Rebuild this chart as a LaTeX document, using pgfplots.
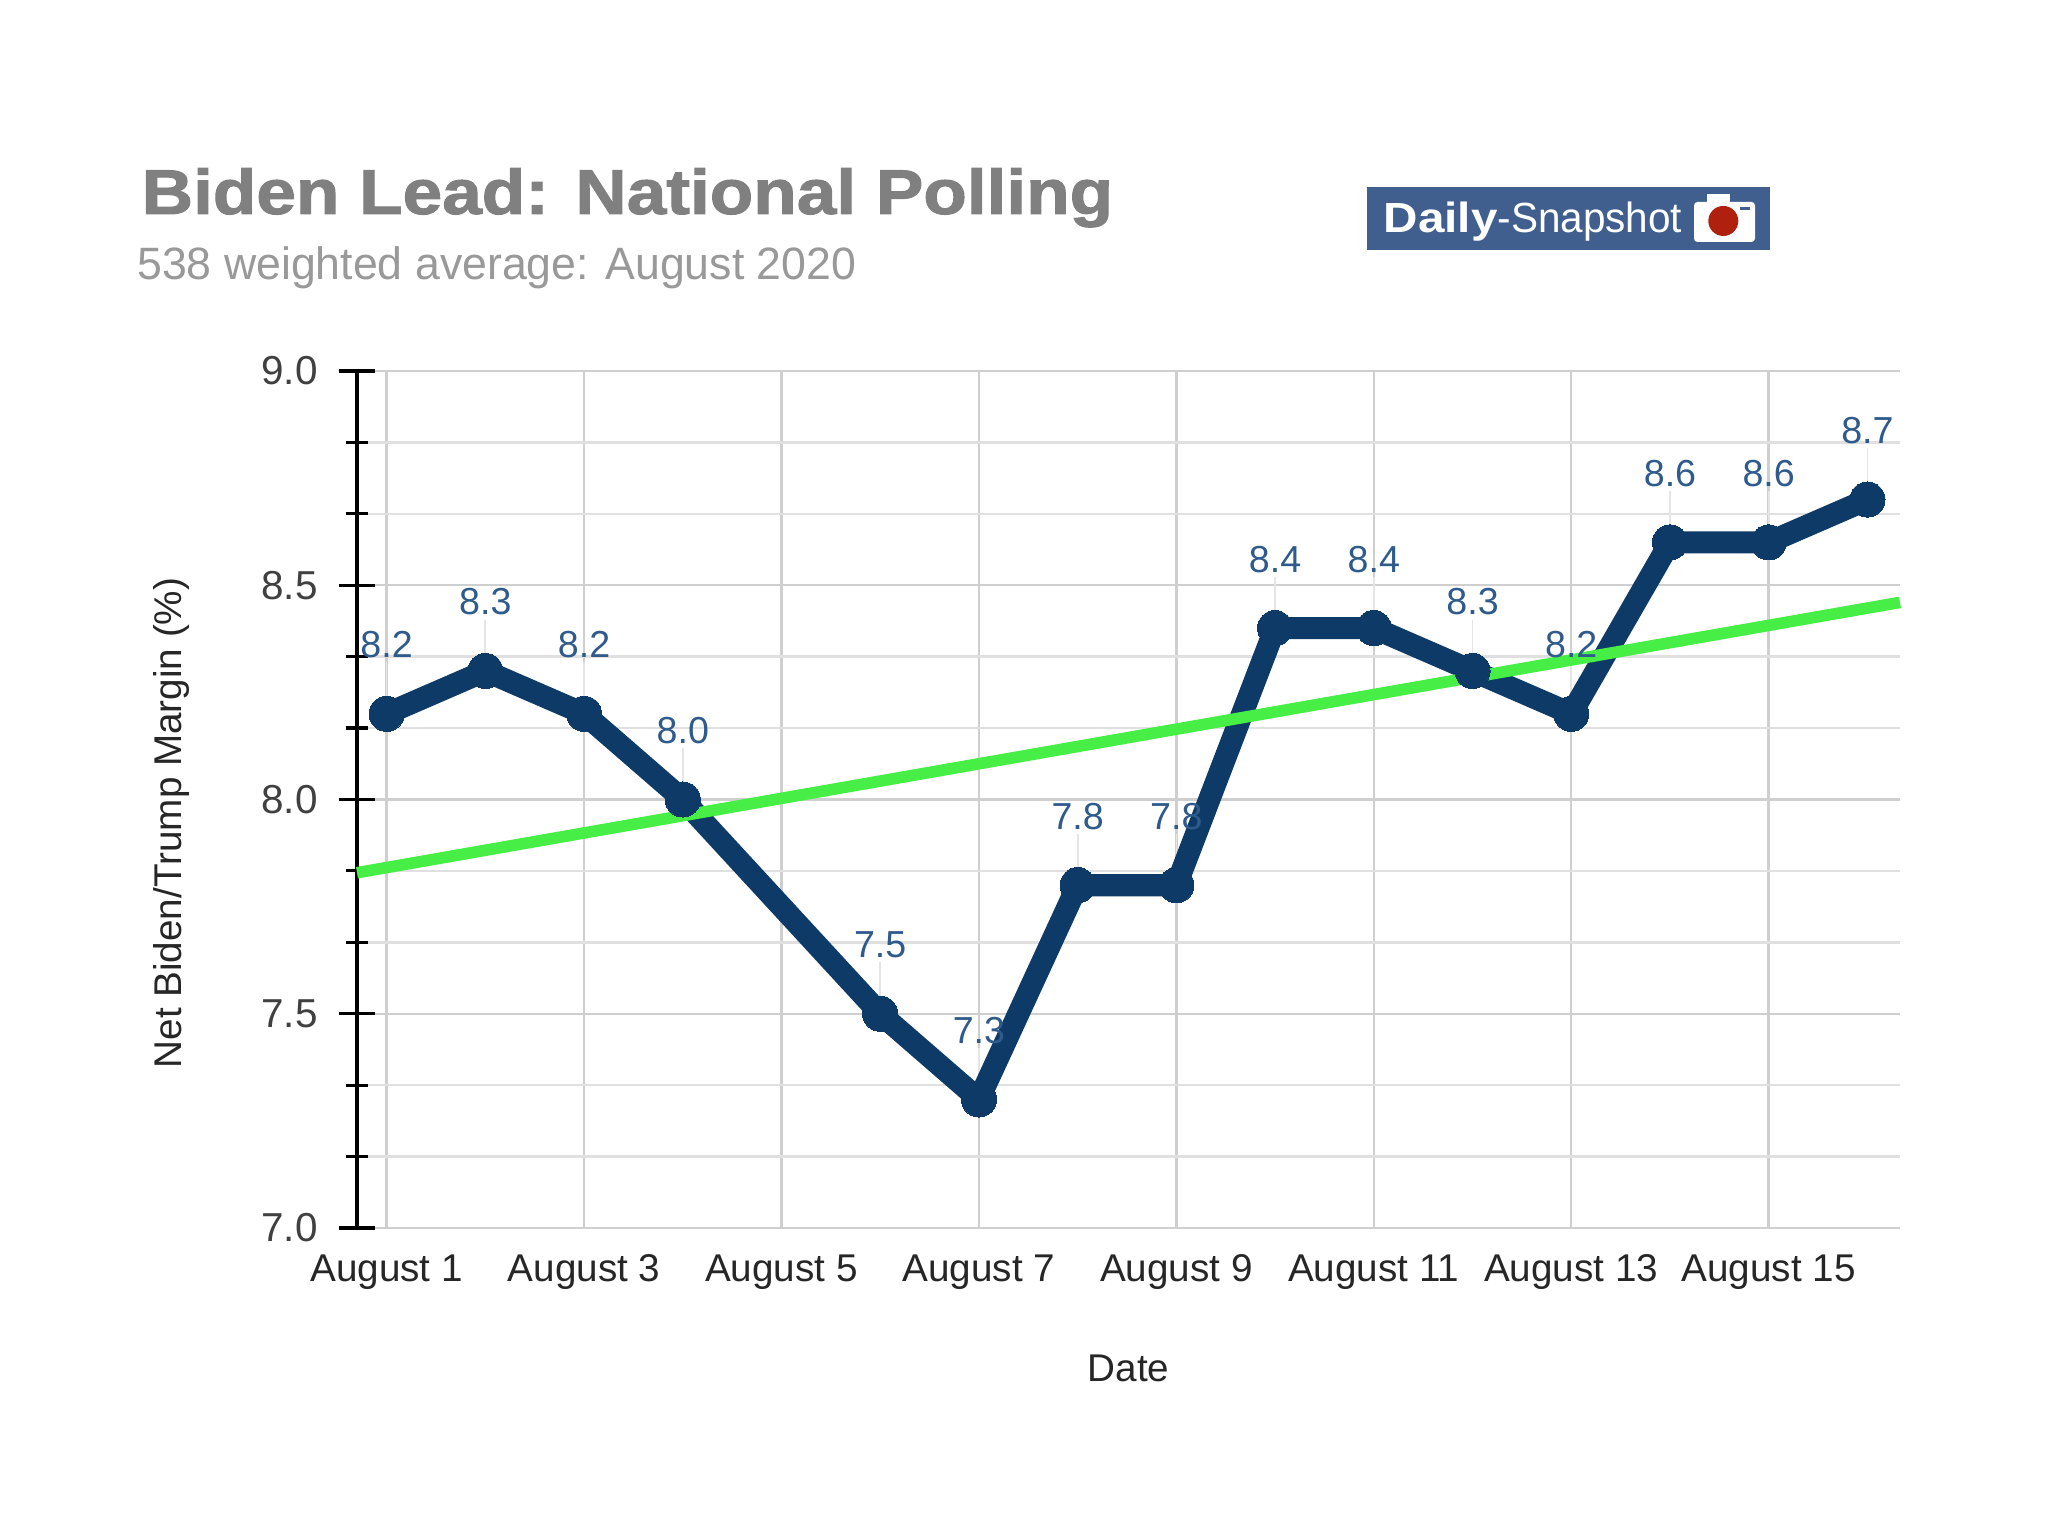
\documentclass[border=0pt]{standalone}
\usepackage{pgfplots}
\pgfplotsset{compat=1.18}
\usepackage{pgfplotstable}
\usepackage{graphicx}
\usepackage{fontspec}
\setmainfont{Liberation Sans}
\newfontfamily\titlefont[FakeBold=1.5]{Liberation Sans Bold}
\definecolor{navy}{HTML}{0D3A66}
\definecolor{lbl}{HTML}{2F5B8C}
\definecolor{trend}{HTML}{46EE46}
\definecolor{logoblue}{HTML}{405E8E}
\definecolor{camred}{HTML}{B0200E}
\pgfplotstableread{
x y
1 8.2
2 8.3
3 8.2
4 8.0
6 7.5
7 7.3
8 7.8
9 7.8
10 8.4
11 8.4
12 8.3
13 8.2
14 8.6
15 8.6
16 8.7
}\polls
\begin{document}
\begin{tikzpicture}[x=1cm,y=1cm]
\fill[white] (0,0) rectangle (20.48,15.36);
\path[use as bounding box] (0,0) rectangle (20.48,15.36);
% title
\node[anchor=base west, inner sep=0, text=black!50] at (1.41,13.22)
  {\scalebox{1.125}[1]{\titlefont\fontsize{18}{20}\selectfont Biden Lead: National Polling}};
\node[anchor=base west, inner sep=0, text=black!40] at (1.365,12.56)
  {\scalebox{0.985}[1]{\fontsize{12.9}{15}\selectfont 538 weighted average: August 2020}};
% logo
\fill[logoblue] (13.67,12.86) rectangle (17.70,13.49);
\node[anchor=base west, inner sep=0, text=white] at (13.83,13.03)
  {\scalebox{1.13}[1]{\fontsize{12}{14}\selectfont\bfseries Daily}\scalebox{0.96}[1]{\fontsize{12}{14}\selectfont -Snapshot}};
\fill[white, rounded corners=1pt] (16.94,12.94) rectangle (17.55,13.34);
\fill[white] (17.07,13.30) rectangle (17.30,13.42);
\fill[camred] (17.233,13.15) circle (0.15);
\fill[logoblue] (17.40,13.255) rectangle (17.50,13.29);
\begin{axis}[
  at={(3.57cm,3.08cm)}, anchor=south west,
  scale only axis, width=15.43cm, height=8.57cm,
  xmin=0.70, xmax=16.33, ymin=7, ymax=9,
  xtick={1,3,5,7,9,11,13,15},
  xticklabels={August 1,August 3,August 5,August 7,August 9,August 11,August 13,August 15},
  ytick={7,7.5,8,8.5,9},
  minor y tick num=2,
  /pgf/number format/assume math mode=true,
  axis lines*=left,
  x axis line style={draw=none},
  y axis line style={draw=black, line width=1.1pt},
  xmajorgrids, ymajorgrids, yminorgrids,
  major grid style={draw=black!19, line width=0.7pt},
  minor grid style={draw=black!12, line width=0.7pt},
  xtick style={draw=none},
  ytick style={draw=black, line width=0.9pt},
  tick align=center,
  major tick length=0.36cm,
  minor tick length=0.22cm,
  tick label style={font=\fontsize{11.5}{13}\selectfont, text=black!75},
  yticklabel style={xshift=-0.09cm, /pgf/number format/.cd, fixed, fixed zerofill, precision=1},
  xticklabel style={font=\fontsize{11}{13}\selectfont, text=black!85, yshift=0.04cm},
  xlabel={Date}, ylabel={Net Biden/Trump Margin (\%)},
  label style={font=\fontsize{11}{13}\selectfont, text=black!85},
  xlabel style={at={(axis description cs:0.5,-0.164)}, anchor=center},
  ylabel style={at={(axis description cs:-0.120,0.4726)}, anchor=center},
  clip=false,
]
\addplot[draw=none, mark=none, forget plot,
  error bars/.cd, y dir=plus, y fixed=0.12, error mark=none,
  error bar style={draw=black!10, line width=0.5pt}] table[x=x,y=y]{\polls};
\addplot[navy, line width=6.3pt, line join=round, line cap=round,
  mark=*, mark size=5pt, mark options={fill=navy, draw=navy, line width=0pt},
  nodes near coords={\pgfmathprintnumber[fixed,fixed zerofill,precision=1,assume math mode=true]{\pgfplotspointmeta}},
  every node near coord/.append style={anchor=center, yshift=0.69cm, text=lbl, font=\fontsize{10.7}{12}\selectfont}
] table[x=x,y=y]{\polls};
\addplot[trend, line width=3.3pt, mark=none] coordinates {(0.70,7.829) (16.33,8.460)};
\end{axis}
\end{tikzpicture}
\end{document}
